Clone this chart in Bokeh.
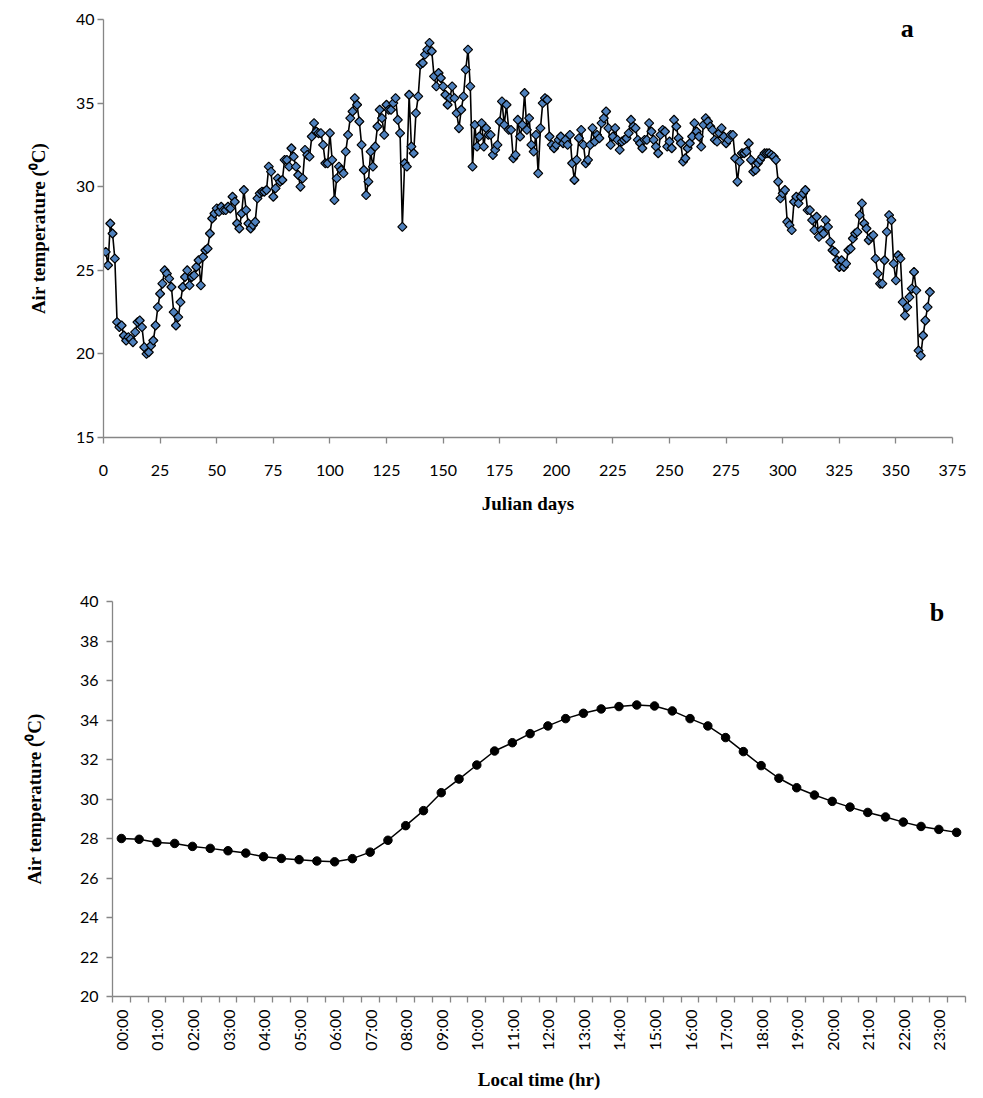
import math
from bokeh.plotting import figure
from bokeh.layouts import column, row
from bokeh.models import FixedTicker, SingleIntervalTicker, Label, Range1d, ColumnDataSource
from bokeh.embed import file_html
from bokeh.resources import INLINE

# ---------------- Data: panel a (daily mean air temperature) ----------------
julian_days = list(range(1, 366))
daily_temp = [
    26.1, 25.3, 27.8, 27.2, 25.7, 21.9, 21.6, 21.7, 21.1, 20.8,
    21.0, 20.9, 20.7, 21.3, 21.9, 22.0, 21.6, 20.4, 20.0, 20.1,
    20.5, 20.8, 21.7, 22.8, 23.6, 24.2, 25.0, 24.8, 24.5, 24.0,
    22.5, 21.7, 22.2, 23.1, 24.0, 24.6, 25.0, 24.1, 24.6, 24.7,
    25.2, 25.6, 24.1, 25.8, 26.2, 26.3, 27.2, 28.1, 28.4, 28.7,
    28.5, 28.8, 28.6, 28.6, 28.8, 28.7, 29.4, 29.1, 27.8, 27.5,
    28.4, 29.8, 28.6, 27.8, 27.5, 27.7, 27.9, 29.3, 29.6, 29.7,
    29.7, 29.8, 31.2, 30.9, 29.4, 29.9, 30.5, 30.3, 30.4, 31.6,
    31.6, 31.2, 32.3, 31.8, 31.2, 30.7, 30.0, 30.5, 32.2, 31.9,
    31.8, 33.0, 33.8, 33.3, 33.2, 33.2, 32.5, 31.4, 31.4, 33.2,
    31.6, 29.2, 30.5, 31.2, 31.0, 30.8, 32.1, 33.1, 34.1, 34.5,
    35.3, 34.9, 33.9, 32.5, 31.0, 29.5, 30.3, 32.1, 31.2, 32.4,
    33.6, 34.6, 34.1, 33.1, 34.9, 34.6, 34.6, 35.0, 35.3, 34.0,
    33.2, 27.6, 31.4, 31.2, 35.5, 32.4, 32.0, 34.4, 35.4, 37.3,
    37.4, 37.9, 38.2, 38.6, 38.1, 36.6, 36.0, 36.8, 36.5, 36.0,
    35.5, 34.9, 35.3, 36.0, 35.3, 34.4, 33.5, 34.6, 35.4, 37.0,
    38.2, 36.0, 31.2, 33.7, 32.4, 33.0, 33.8, 32.4, 33.5, 33.1,
    33.1, 31.9, 32.2, 32.5, 33.9, 35.1, 33.7, 34.9, 33.4, 33.4,
    31.7, 31.9, 34.0, 33.0, 33.7, 35.6, 33.4, 34.1, 32.5, 32.1,
    33.1, 30.8, 33.5, 35.0, 35.3, 35.2, 33.0, 32.5, 32.3, 32.5,
    32.8, 33.0, 32.6, 32.8, 32.5, 33.1, 31.4, 30.4, 31.6, 32.9,
    33.4, 32.5, 31.4, 31.6, 32.5, 33.5, 32.7, 33.1, 32.9, 33.8,
    34.1, 34.5, 33.5, 32.5, 33.0, 33.5, 32.8, 32.2, 32.7, 32.8,
    32.9, 33.2, 34.0, 33.6, 33.5, 32.8, 32.6, 32.3, 32.8, 32.8,
    33.8, 33.3, 32.8, 32.4, 32.0, 33.1, 33.4, 33.3, 32.4, 32.7,
    32.3, 34.0, 33.6, 32.9, 32.6, 31.5, 31.7, 32.3, 32.6, 33.0,
    33.8, 33.3, 33.0, 32.4, 33.7, 34.1, 33.9, 33.6, 33.4, 32.8,
    32.7, 33.2, 33.5, 33.0, 32.6, 32.8, 33.1, 33.1, 31.7, 30.3,
    31.5, 32.0, 32.0, 32.1, 32.6, 31.6, 30.9, 31.0, 31.4, 31.6,
    31.8, 32.0, 32.0, 32.0, 31.9, 31.8, 31.6, 30.3, 29.3, 29.6,
    29.8, 27.9, 27.7, 27.4, 29.1, 29.4, 29.0, 29.4, 29.6, 29.8,
    28.6, 28.6, 28.0, 27.4, 28.2, 27.0, 27.4, 27.2, 28.0, 27.6,
    26.7, 26.2, 26.1, 25.6, 25.2, 25.6, 25.2, 25.4, 26.2, 26.3,
    26.9, 27.2, 27.3, 28.3, 29.0, 27.8, 27.5, 26.8, 27.0, 27.1,
    25.7, 24.8, 24.2, 24.2, 25.6, 27.3, 28.3, 28.0, 25.4, 24.4,
    25.9, 25.7, 23.1, 22.3, 22.8, 23.4, 23.9, 24.9, 23.8, 20.2,
    19.9, 21.1, 22.0, 22.8, 23.7,
]

# ---------------- Data: panel b (mean diurnal cycle, half-hourly) ----------------
time_labels = [
    "00:00", "00:30", "01:00", "01:30", "02:00", "02:30", "03:00", "03:30",
    "04:00", "04:30", "05:00", "05:30", "06:00", "06:30", "07:00", "07:30",
    "08:00", "08:30", "09:00", "09:30", "10:00", "10:30", "11:00", "11:30",
    "12:00", "12:30", "13:00", "13:30", "14:00", "14:30", "15:00", "15:30",
    "16:00", "16:30", "17:00", "17:30", "18:00", "18:30", "19:00", "19:30",
    "20:00", "20:30", "21:00", "21:30", "22:00", "22:30", "23:00", "23:30",
]
hourly_temp = [
    28.0, 27.96, 27.8, 27.75, 27.6, 27.5, 27.38, 27.26,
    27.08, 26.99, 26.93, 26.86, 26.82, 26.98, 27.31, 27.91,
    28.65, 29.41, 30.32, 31.01, 31.72, 32.43, 32.85, 33.31,
    33.70, 34.07, 34.34, 34.56, 34.68, 34.76, 34.71, 34.46,
    34.07, 33.70, 33.11, 32.40, 31.69, 31.05, 30.57, 30.20,
    29.88, 29.59, 29.32, 29.09, 28.83, 28.61, 28.46, 28.31,
]

AXIS_GREY = "#868686"
TICK_FONT = "Lato"
TITLE_FONT = "Liberation Serif"


def style_axes(p):
    for ax in (p.xaxis[0], p.yaxis[0]):
        ax.axis_line_color = AXIS_GREY
        ax.axis_line_width = 1.3
        ax.major_tick_line_color = AXIS_GREY
        ax.major_tick_line_width = 1.3
        ax.minor_tick_line_color = AXIS_GREY
        ax.minor_tick_line_width = 1.3
        ax.major_tick_in = 0
        ax.major_tick_out = 6
        ax.minor_tick_in = 0
        ax.minor_tick_out = 0
        ax.major_label_text_font = TICK_FONT
        ax.major_label_text_font_size = "16px"
        ax.major_label_text_color = "black"
        ax.axis_label_text_font = TITLE_FONT
        ax.axis_label_text_font_style = "bold"
        ax.axis_label_text_font_size = "19px"
        ax.axis_label_text_color = "black"
    p.xgrid.visible = False
    p.ygrid.visible = False
    p.outline_line_color = None


# ---------------- Panel a ----------------
p1 = figure(
    width=983, height=545,
    x_range=Range1d(0, 375), y_range=Range1d(15, 40),
    output_backend="svg", toolbar_location=None,
    min_border_left=103, min_border_right=31,
    min_border_top=19, min_border_bottom=108,
)
src_a = ColumnDataSource(dict(day=julian_days, temp=daily_temp))
p1.line("day", "temp", source=src_a, line_color="black", line_width=1.6)
p1.scatter("day", "temp", source=src_a, marker="square", angle=math.pi / 4,
           size=6.4, fill_color="#4F81BD", line_color="black", line_width=1.2)
p1.xaxis.ticker = SingleIntervalTicker(interval=25, num_minor_ticks=0)
p1.yaxis.ticker = SingleIntervalTicker(interval=5, num_minor_ticks=0)
p1.xaxis.axis_label = "Julian days"
p1.yaxis.axis_label = "Air temperature (\u2070C)"
style_axes(p1)
p1.xaxis.major_label_standoff = 21
p1.xaxis.axis_label_standoff = 14
p1.yaxis.major_label_standoff = 3
p1.yaxis.axis_label_standoff = 24
p1.add_layout(Label(x=355, y=39.45, text="a", text_font=TITLE_FONT,
                    text_font_style="bold", text_font_size="26px",
                    text_color="black",
                    text_align="center", text_baseline="middle"))

# ---------------- Panel b ----------------
n = len(time_labels)
positions = list(range(n))
p2 = figure(
    width=983, height=553,
    x_range=Range1d(-0.5, n - 0.5), y_range=Range1d(20, 40),
    output_backend="svg", toolbar_location=None,
    min_border_left=112, min_border_right=18,
    min_border_top=56, min_border_bottom=102,
)
src_b = ColumnDataSource(dict(x=positions, temp=hourly_temp))
p2.line("x", "temp", source=src_b, line_color="black", line_width=1.5)
p2.scatter("x", "temp", source=src_b, marker="circle", size=8.5,
           fill_color="black", line_color="black")
major = positions[::2]
p2.xaxis.ticker = FixedTicker(ticks=major, minor_ticks=[i - 0.5 for i in range(n + 1)])
p2.xaxis.major_label_overrides = {i: time_labels[i] for i in major}
p2.xaxis.major_label_orientation = math.pi / 2
p2.yaxis.ticker = SingleIntervalTicker(interval=2, num_minor_ticks=0)
p2.xaxis.axis_label = "Local time (hr)"
p2.yaxis.axis_label = "Air temperature (\u2070C)"
style_axes(p2)
p2.xaxis.major_tick_out = 0
p2.xaxis.minor_tick_out = 6
p2.xaxis.major_label_standoff = 7
p2.xaxis.axis_label_standoff = 15
p2.yaxis.major_label_standoff = 8
p2.yaxis.axis_label_standoff = 32
p2.add_layout(Label(x=45.9, y=39.44, text="b", text_font=TITLE_FONT,
                    text_font_style="bold", text_font_size="26px",
                    text_color="black",
                    text_align="center", text_baseline="middle"))

layout = column(row(p1), row(p2), spacing=0)
open("out.html", "w").write(file_html(layout, INLINE))
